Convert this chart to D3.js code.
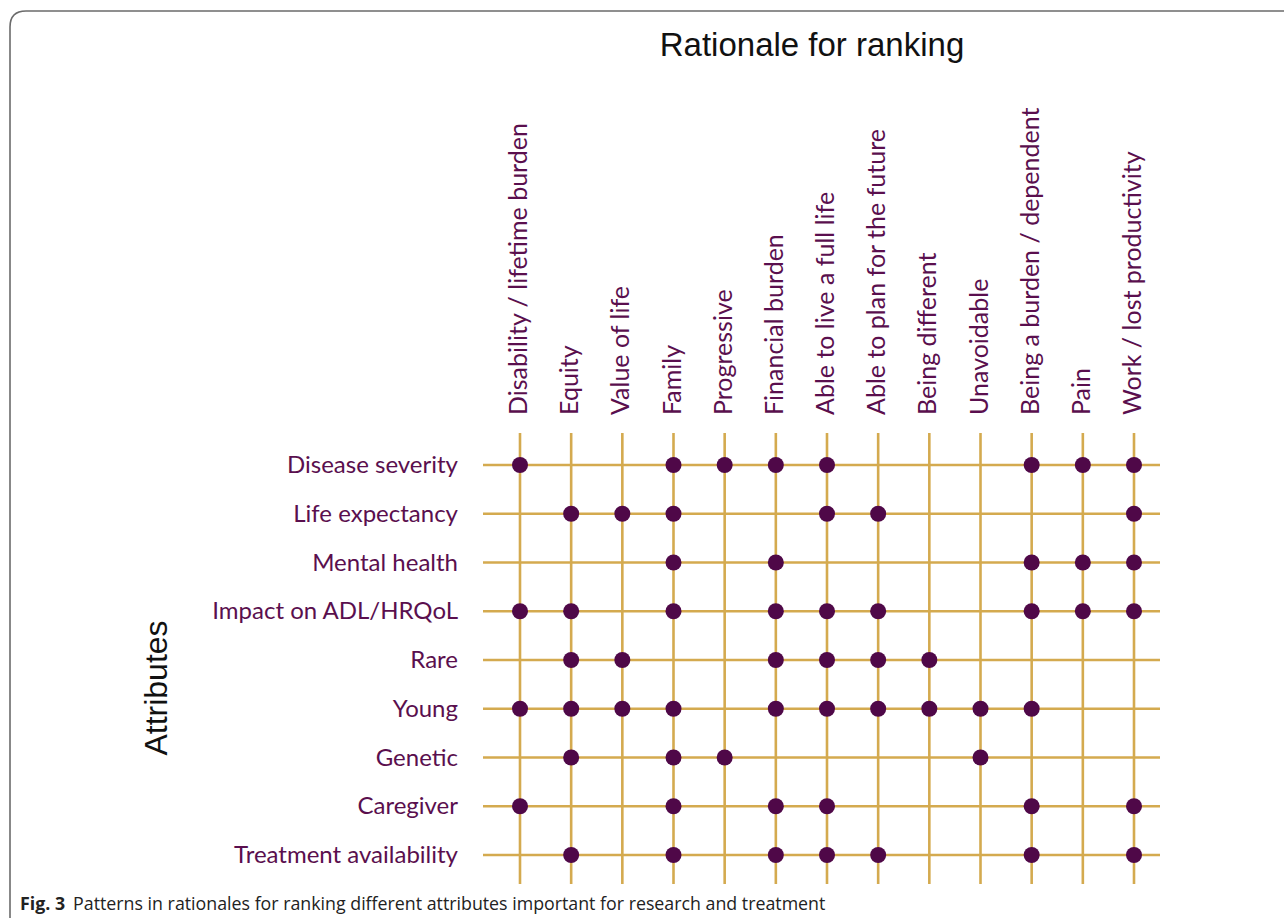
<!DOCTYPE html>
<html>
<head>
<meta charset="utf-8">
<script src="https://cdn.jsdelivr.net/npm/d3@7"></script>
<style>
  body { margin: 0; background: #fff; }
</style>
</head>
<body>
<div id="chart"></div>
<script>
// columns (rationales) and rows (attributes)
var rationales = ["Disability / lifetime burden", "Equity", "Value of life", "Family", "Progressive",
  "Financial burden", "Able to live a full life", "Able to plan for the future", "Being different",
  "Unavoidable", "Being a burden / dependent", "Pain", "Work / lost productivity"];

var attributes = ["Disease severity", "Life expectancy", "Mental health", "Impact on ADL/HRQoL",
  "Rare", "Young", "Genetic", "Caregiver", "Treatment availability"];

// which rationales were given for each attribute
var links = [
  ["Disease severity", ["Disability / lifetime burden", "Family", "Progressive", "Financial burden", "Able to live a full life", "Being a burden / dependent", "Pain", "Work / lost productivity"]],
  ["Life expectancy", ["Equity", "Value of life", "Family", "Able to live a full life", "Able to plan for the future", "Work / lost productivity"]],
  ["Mental health", ["Family", "Financial burden", "Being a burden / dependent", "Pain", "Work / lost productivity"]],
  ["Impact on ADL/HRQoL", ["Disability / lifetime burden", "Equity", "Family", "Financial burden", "Able to live a full life", "Able to plan for the future", "Being a burden / dependent", "Pain", "Work / lost productivity"]],
  ["Rare", ["Equity", "Value of life", "Financial burden", "Able to live a full life", "Able to plan for the future", "Being different"]],
  ["Young", ["Disability / lifetime burden", "Equity", "Value of life", "Family", "Financial burden", "Able to live a full life", "Able to plan for the future", "Being different", "Unavoidable", "Being a burden / dependent"]],
  ["Genetic", ["Equity", "Family", "Progressive", "Unavoidable"]],
  ["Caregiver", ["Disability / lifetime burden", "Family", "Financial burden", "Able to live a full life", "Being a burden / dependent", "Work / lost productivity"]],
  ["Treatment availability", ["Equity", "Family", "Financial burden", "Able to live a full life", "Able to plan for the future", "Being a burden / dependent", "Work / lost productivity"]]
];

var W = 1284, H = 923;
var purple = "#5a0f4e", gold = "#d4aa4f", dot = "#4f0848";
var labelFont = "Lato, 'Open Sans', sans-serif";

var svg = d3.select("#chart").append("svg")
  .attr("width", W)
  .attr("height", H);

// frame
svg.append("path")
  .attr("d", "M10,918 L10,27 Q10,11 26,11 L1284,11")
  .attr("fill", "none")
  .attr("stroke", "#6b6b6b")
  .attr("stroke-width", 1.6);

var x = d3.scalePoint()
  .domain(rationales)
  .range([520, 1134]);

var y = d3.scalePoint()
  .domain(attributes)
  .range([465, 855]);

var grid = svg.append("g");

// vertical lines
grid.selectAll(".vline")
  .data(rationales)
  .enter()
  .append("line")
  .attr("class", "vline")
  .attr("x1", function(d){ return x(d); })
  .attr("x2", function(d){ return x(d); })
  .attr("y1", 433)
  .attr("y2", 884)
  .attr("stroke", gold)
  .attr("stroke-width", 2.6);

// horizontal lines
grid.selectAll(".hline")
  .data(attributes)
  .enter()
  .append("line")
  .attr("class", "hline")
  .attr("x1", 483)
  .attr("x2", 1160)
  .attr("y1", function(d){ return y(d); })
  .attr("y2", function(d){ return y(d); })
  .attr("stroke", gold)
  .attr("stroke-width", 2.6);

// dots
var points = [];
links.forEach(function(l) {
  l[1].forEach(function(r) { points.push({attr: l[0], rat: r}); });
});

svg.selectAll(".dot")
  .data(points)
  .enter()
  .append("circle")
  .attr("class", "dot")
  .attr("cx", function(d){ return x(d.rat); })
  .attr("cy", function(d){ return y(d.attr); })
  .attr("r", 8)
  .attr("fill", dot);

// column labels
svg.selectAll(".collabel")
  .data(rationales)
  .enter()
  .append("text")
  .attr("class", "collabel")
  .attr("transform", function(d){ return "translate(" + (x(d) + 7) + ",415) rotate(-90)"; })
  .attr("font-family", labelFont)
  .attr("font-size", 25)
  .attr("fill", purple)
  .text(function(d){ return d; });

// row labels
svg.selectAll(".rowlabel")
  .data(attributes)
  .enter()
  .append("text")
  .attr("class", "rowlabel")
  .attr("x", 458)
  .attr("y", function(d){ return y(d) + 8; })
  .attr("text-anchor", "end")
  .attr("font-family", labelFont)
  .attr("font-size", 24)
  .attr("fill", purple)
  .text(function(d){ return d; });

// axis titles
svg.append("text")
  .attr("x", 812)
  .attr("y", 56)
  .attr("text-anchor", "middle")
  .attr("font-family", "'Liberation Sans', Arial, sans-serif")
  .attr("font-size", 33)
  .attr("fill", "#111")
  .text("Rationale for ranking");

svg.append("text")
  .attr("transform", "translate(167,688) rotate(-90)")
  .attr("text-anchor", "middle")
  .attr("font-family", "'Liberation Sans', Arial, sans-serif")
  .attr("font-size", 32)
  .attr("fill", "#111")
  .text("Attributes");

// caption
var cap = svg.append("text")
  .attr("x", 20)
  .attr("y", 910)
  .attr("font-family", "'Open Sans', sans-serif")
  .attr("font-size", 17.8)
  .attr("fill", "#222");
cap.append("tspan").attr("font-weight", "bold").text("Fig. 3");
cap.append("tspan").attr("dx", 8).text("Patterns in rationales for ranking different attributes important for research and treatment");
</script>
</body>
</html>
